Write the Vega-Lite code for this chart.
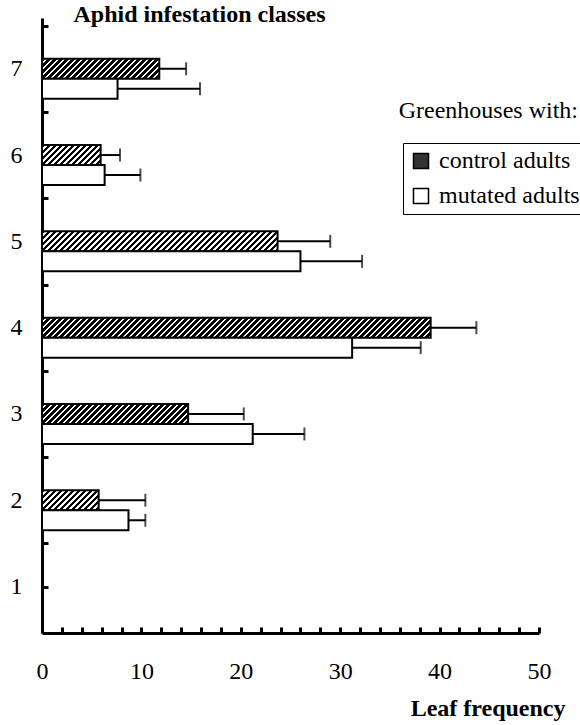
{
"$schema": "https://vega.github.io/schema/vega-lite/v6.json",
"width": 497, "height": 615,
"autosize": {"type": "none"},
"padding": {"left": 42, "top": 18, "right": 41, "bottom": 92},
"background": "white",
"config": {"view": {"stroke": null}, "font": "Liberation Serif",
 "legend": {"labelFont": "Liberation Serif", "labelFontSize": 24, "labelColor": "black"},
 "text": {"font": "Liberation Serif"}},
"data": {"values": [
{"cls": 7, "group": "control adults", "mean": 11.8, "upper": 14.5},
{"cls": 6, "group": "control adults", "mean": 5.9, "upper": 7.85},
{"cls": 5, "group": "control adults", "mean": 23.7, "upper": 29.0},
{"cls": 4, "group": "control adults", "mean": 39.1, "upper": 43.7},
{"cls": 3, "group": "control adults", "mean": 14.7, "upper": 20.3},
{"cls": 2, "group": "control adults", "mean": 5.7, "upper": 10.4},
{"cls": 7, "group": "mutated adults", "mean": 7.6, "upper": 15.9},
{"cls": 6, "group": "mutated adults", "mean": 6.3, "upper": 9.9},
{"cls": 5, "group": "mutated adults", "mean": 26.0, "upper": 32.2},
{"cls": 4, "group": "mutated adults", "mean": 31.2, "upper": 38.1},
{"cls": 3, "group": "mutated adults", "mean": 21.2, "upper": 26.4},
{"cls": 2, "group": "mutated adults", "mean": 8.7, "upper": 10.4}
]},
"layer": [
{"transform": [{"filter": "datum.group === 'control adults'"}],
 "mark": {"type": "bar", "orient": "horizontal", "size": 20, "strokeWidth": 0,
  "fill": {"gradient": "linear", "x1": 0, "y1": 0, "x2": 1.50524, "y2": 0.075717, "stops": [
{"offset":0,"color":"#000"},{"offset":0.006,"color":"#000"},{"offset":0.006,"color":"#fff"},{"offset":0.01,"color":"#fff"},
{"offset":0.01,"color":"#000"},{"offset":0.016,"color":"#000"},{"offset":0.016,"color":"#fff"},{"offset":0.02,"color":"#fff"},
{"offset":0.02,"color":"#000"},{"offset":0.026,"color":"#000"},{"offset":0.026,"color":"#fff"},{"offset":0.03,"color":"#fff"},
{"offset":0.03,"color":"#000"},{"offset":0.036,"color":"#000"},{"offset":0.036,"color":"#fff"},{"offset":0.04,"color":"#fff"},
{"offset":0.04,"color":"#000"},{"offset":0.046,"color":"#000"},{"offset":0.046,"color":"#fff"},{"offset":0.05,"color":"#fff"},
{"offset":0.05,"color":"#000"},{"offset":0.056,"color":"#000"},{"offset":0.056,"color":"#fff"},{"offset":0.06,"color":"#fff"},
{"offset":0.06,"color":"#000"},{"offset":0.066,"color":"#000"},{"offset":0.066,"color":"#fff"},{"offset":0.07,"color":"#fff"},
{"offset":0.07,"color":"#000"},{"offset":0.076,"color":"#000"},{"offset":0.076,"color":"#fff"},{"offset":0.08,"color":"#fff"},
{"offset":0.08,"color":"#000"},{"offset":0.086,"color":"#000"},{"offset":0.086,"color":"#fff"},{"offset":0.09,"color":"#fff"},
{"offset":0.09,"color":"#000"},{"offset":0.096,"color":"#000"},{"offset":0.096,"color":"#fff"},{"offset":0.10,"color":"#fff"},
{"offset":0.10,"color":"#000"},{"offset":0.106,"color":"#000"},{"offset":0.106,"color":"#fff"},{"offset":0.11,"color":"#fff"},
{"offset":0.11,"color":"#000"},{"offset":0.116,"color":"#000"},{"offset":0.116,"color":"#fff"},{"offset":0.12,"color":"#fff"},
{"offset":0.12,"color":"#000"},{"offset":0.126,"color":"#000"},{"offset":0.126,"color":"#fff"},{"offset":0.13,"color":"#fff"},
{"offset":0.13,"color":"#000"},{"offset":0.136,"color":"#000"},{"offset":0.136,"color":"#fff"},{"offset":0.14,"color":"#fff"},
{"offset":0.14,"color":"#000"},{"offset":0.146,"color":"#000"},{"offset":0.146,"color":"#fff"},{"offset":0.15,"color":"#fff"},
{"offset":0.15,"color":"#000"},{"offset":0.156,"color":"#000"},{"offset":0.156,"color":"#fff"},{"offset":0.16,"color":"#fff"},
{"offset":0.16,"color":"#000"},{"offset":0.166,"color":"#000"},{"offset":0.166,"color":"#fff"},{"offset":0.17,"color":"#fff"},
{"offset":0.17,"color":"#000"},{"offset":0.176,"color":"#000"},{"offset":0.176,"color":"#fff"},{"offset":0.18,"color":"#fff"},
{"offset":0.18,"color":"#000"},{"offset":0.186,"color":"#000"},{"offset":0.186,"color":"#fff"},{"offset":0.19,"color":"#fff"},
{"offset":0.19,"color":"#000"},{"offset":0.196,"color":"#000"},{"offset":0.196,"color":"#fff"},{"offset":0.20,"color":"#fff"},
{"offset":0.20,"color":"#000"},{"offset":0.206,"color":"#000"},{"offset":0.206,"color":"#fff"},{"offset":0.21,"color":"#fff"},
{"offset":0.21,"color":"#000"},{"offset":0.216,"color":"#000"},{"offset":0.216,"color":"#fff"},{"offset":0.22,"color":"#fff"},
{"offset":0.22,"color":"#000"},{"offset":0.226,"color":"#000"},{"offset":0.226,"color":"#fff"},{"offset":0.23,"color":"#fff"},
{"offset":0.23,"color":"#000"},{"offset":0.236,"color":"#000"},{"offset":0.236,"color":"#fff"},{"offset":0.24,"color":"#fff"},
{"offset":0.24,"color":"#000"},{"offset":0.246,"color":"#000"},{"offset":0.246,"color":"#fff"},{"offset":0.25,"color":"#fff"},
{"offset":0.25,"color":"#000"},{"offset":0.256,"color":"#000"},{"offset":0.256,"color":"#fff"},{"offset":0.26,"color":"#fff"},
{"offset":0.26,"color":"#000"},{"offset":0.266,"color":"#000"},{"offset":0.266,"color":"#fff"},{"offset":0.27,"color":"#fff"},
{"offset":0.27,"color":"#000"},{"offset":0.276,"color":"#000"},{"offset":0.276,"color":"#fff"},{"offset":0.28,"color":"#fff"},
{"offset":0.28,"color":"#000"},{"offset":0.286,"color":"#000"},{"offset":0.286,"color":"#fff"},{"offset":0.29,"color":"#fff"},
{"offset":0.29,"color":"#000"},{"offset":0.296,"color":"#000"},{"offset":0.296,"color":"#fff"},{"offset":0.30,"color":"#fff"},
{"offset":0.30,"color":"#000"},{"offset":0.306,"color":"#000"},{"offset":0.306,"color":"#fff"},{"offset":0.31,"color":"#fff"},
{"offset":0.31,"color":"#000"},{"offset":0.316,"color":"#000"},{"offset":0.316,"color":"#fff"},{"offset":0.32,"color":"#fff"},
{"offset":0.32,"color":"#000"},{"offset":0.326,"color":"#000"},{"offset":0.326,"color":"#fff"},{"offset":0.33,"color":"#fff"},
{"offset":0.33,"color":"#000"},{"offset":0.336,"color":"#000"},{"offset":0.336,"color":"#fff"},{"offset":0.34,"color":"#fff"},
{"offset":0.34,"color":"#000"},{"offset":0.346,"color":"#000"},{"offset":0.346,"color":"#fff"},{"offset":0.35,"color":"#fff"},
{"offset":0.35,"color":"#000"},{"offset":0.356,"color":"#000"},{"offset":0.356,"color":"#fff"},{"offset":0.36,"color":"#fff"},
{"offset":0.36,"color":"#000"},{"offset":0.366,"color":"#000"},{"offset":0.366,"color":"#fff"},{"offset":0.37,"color":"#fff"},
{"offset":0.37,"color":"#000"},{"offset":0.376,"color":"#000"},{"offset":0.376,"color":"#fff"},{"offset":0.38,"color":"#fff"},
{"offset":0.38,"color":"#000"},{"offset":0.386,"color":"#000"},{"offset":0.386,"color":"#fff"},{"offset":0.39,"color":"#fff"},
{"offset":0.39,"color":"#000"},{"offset":0.396,"color":"#000"},{"offset":0.396,"color":"#fff"},{"offset":0.40,"color":"#fff"},
{"offset":0.40,"color":"#000"},{"offset":0.406,"color":"#000"},{"offset":0.406,"color":"#fff"},{"offset":0.41,"color":"#fff"},
{"offset":0.41,"color":"#000"},{"offset":0.416,"color":"#000"},{"offset":0.416,"color":"#fff"},{"offset":0.42,"color":"#fff"},
{"offset":0.42,"color":"#000"},{"offset":0.426,"color":"#000"},{"offset":0.426,"color":"#fff"},{"offset":0.43,"color":"#fff"},
{"offset":0.43,"color":"#000"},{"offset":0.436,"color":"#000"},{"offset":0.436,"color":"#fff"},{"offset":0.44,"color":"#fff"},
{"offset":0.44,"color":"#000"},{"offset":0.446,"color":"#000"},{"offset":0.446,"color":"#fff"},{"offset":0.45,"color":"#fff"},
{"offset":0.45,"color":"#000"},{"offset":0.456,"color":"#000"},{"offset":0.456,"color":"#fff"},{"offset":0.46,"color":"#fff"},
{"offset":0.46,"color":"#000"},{"offset":0.466,"color":"#000"},{"offset":0.466,"color":"#fff"},{"offset":0.47,"color":"#fff"},
{"offset":0.47,"color":"#000"},{"offset":0.476,"color":"#000"},{"offset":0.476,"color":"#fff"},{"offset":0.48,"color":"#fff"},
{"offset":0.48,"color":"#000"},{"offset":0.486,"color":"#000"},{"offset":0.486,"color":"#fff"},{"offset":0.49,"color":"#fff"},
{"offset":0.49,"color":"#000"},{"offset":0.496,"color":"#000"},{"offset":0.496,"color":"#fff"},{"offset":0.50,"color":"#fff"},
{"offset":0.50,"color":"#000"},{"offset":0.506,"color":"#000"},{"offset":0.506,"color":"#fff"},{"offset":0.51,"color":"#fff"},
{"offset":0.51,"color":"#000"},{"offset":0.516,"color":"#000"},{"offset":0.516,"color":"#fff"},{"offset":0.52,"color":"#fff"},
{"offset":0.52,"color":"#000"},{"offset":0.526,"color":"#000"},{"offset":0.526,"color":"#fff"},{"offset":0.53,"color":"#fff"},
{"offset":0.53,"color":"#000"},{"offset":0.536,"color":"#000"},{"offset":0.536,"color":"#fff"},{"offset":0.54,"color":"#fff"},
{"offset":0.54,"color":"#000"},{"offset":0.546,"color":"#000"},{"offset":0.546,"color":"#fff"},{"offset":0.55,"color":"#fff"},
{"offset":0.55,"color":"#000"},{"offset":0.556,"color":"#000"},{"offset":0.556,"color":"#fff"},{"offset":0.56,"color":"#fff"},
{"offset":0.56,"color":"#000"},{"offset":0.566,"color":"#000"},{"offset":0.566,"color":"#fff"},{"offset":0.57,"color":"#fff"},
{"offset":0.57,"color":"#000"},{"offset":0.576,"color":"#000"},{"offset":0.576,"color":"#fff"},{"offset":0.58,"color":"#fff"},
{"offset":0.58,"color":"#000"},{"offset":0.586,"color":"#000"},{"offset":0.586,"color":"#fff"},{"offset":0.59,"color":"#fff"},
{"offset":0.59,"color":"#000"},{"offset":0.596,"color":"#000"},{"offset":0.596,"color":"#fff"},{"offset":0.60,"color":"#fff"},
{"offset":0.60,"color":"#000"},{"offset":0.606,"color":"#000"},{"offset":0.606,"color":"#fff"},{"offset":0.61,"color":"#fff"},
{"offset":0.61,"color":"#000"},{"offset":0.616,"color":"#000"},{"offset":0.616,"color":"#fff"},{"offset":0.62,"color":"#fff"},
{"offset":0.62,"color":"#000"},{"offset":0.626,"color":"#000"},{"offset":0.626,"color":"#fff"},{"offset":0.63,"color":"#fff"},
{"offset":0.63,"color":"#000"},{"offset":0.636,"color":"#000"},{"offset":0.636,"color":"#fff"},{"offset":0.64,"color":"#fff"},
{"offset":0.64,"color":"#000"},{"offset":0.646,"color":"#000"},{"offset":0.646,"color":"#fff"},{"offset":0.65,"color":"#fff"},
{"offset":0.65,"color":"#000"},{"offset":0.656,"color":"#000"},{"offset":0.656,"color":"#fff"},{"offset":0.66,"color":"#fff"},
{"offset":0.66,"color":"#000"},{"offset":0.666,"color":"#000"},{"offset":0.666,"color":"#fff"},{"offset":0.67,"color":"#fff"},
{"offset":0.67,"color":"#000"},{"offset":0.676,"color":"#000"},{"offset":0.676,"color":"#fff"},{"offset":0.68,"color":"#fff"},
{"offset":0.68,"color":"#000"},{"offset":0.686,"color":"#000"},{"offset":0.686,"color":"#fff"},{"offset":0.69,"color":"#fff"},
{"offset":0.69,"color":"#000"},{"offset":0.696,"color":"#000"},{"offset":0.696,"color":"#fff"},{"offset":0.70,"color":"#fff"}
  ]}},
 "encoding": {
  "y": {"field": "cls", "type": "quantitative",
   "scale": {"domain": [0.52, 7.53], "nice": false, "zero": false},
   "axis": {"title": "Aphid infestation classes", "titleAngle": 0, "titleAlign": "left", "titleBaseline": "middle", "titleX": 31, "titleY": -4,
    "titleFont": "Liberation Serif", "titleFontSize": 24, "titleFontWeight": "bold", "titleColor": "black",
    "values": [1, 1.5, 2, 2.5, 3, 3.5, 4, 4.5, 5, 5.5, 6, 6.5, 7, 7.5], "tickCount": 40,
    "labelExpr": "datum.value % 1 === 0 ? format(datum.value, 'd') : ''",
    "labelFont": "Liberation Serif", "labelFontSize": 24, "labelColor": "black", "labelPadding": 26, "labelOverlap": false,
    "tickSize": -6, "tickWidth": 3, "tickColor": "black", "domainColor": "black", "domainWidth": 3, "grid": false}},
  "x": {"datum": 0, "type": "quantitative",
   "scale": {"domain": [0, 50], "nice": false, "zero": true},
   "axis": {"title": "Leaf frequency", "titleAlign": "right", "titleX": 523, "titleY": 75, "titleBaseline": "middle",
    "titleFont": "Liberation Serif", "titleFontSize": 24, "titleFontWeight": "bold", "titleColor": "black",
    "values": [0, 2, 4, 6, 8, 10, 12, 14, 16, 18, 20, 22, 24, 26, 28, 30, 32, 34, 36, 38, 40, 42, 44, 46, 48, 50], "tickCount": 60,
    "labelExpr": "datum.value % 10 === 0 ? format(datum.value, 'd') : ''",
    "labelFont": "Liberation Serif", "labelFontSize": 24, "labelColor": "black", "labelPadding": 32, "labelFlush": false, "labelOverlap": false,
    "tickSize": -6, "tickWidth": 3, "tickColor": "black", "domainColor": "black", "domainWidth": 3, "grid": false}},
  "x2": {"datum": 40}
 }},
{"transform": [{"filter": "datum.group === 'control adults'"}],
 "mark": {"type": "bar", "orient": "horizontal", "size": 22, "fill": "white", "strokeWidth": 0},
 "encoding": {"y": {"field": "cls", "type": "quantitative"}, "x": {"field": "mean", "type": "quantitative"}, "x2": {"datum": 41}}},
{"transform": [{"filter": "datum.group === 'control adults'"}],
 "mark": {"type": "bar", "orient": "horizontal", "size": 20, "filled": false, "stroke": "black", "strokeWidth": 2},
 "encoding": {"y": {"field": "cls", "type": "quantitative"}, "x": {"field": "mean", "type": "quantitative"}}},
{"transform": [{"filter": "datum.group === 'control adults'"}],
 "mark": {"type": "rule", "color": "black", "strokeWidth": 2},
 "encoding": {"y": {"field": "cls", "type": "quantitative"}, "x": {"field": "mean", "type": "quantitative"}, "x2": {"field": "upper"}}},
{"transform": [{"filter": "datum.group === 'control adults'"}],
 "mark": {"type": "tick", "orient": "vertical", "color": "black", "size": 13, "thickness": 2},
 "encoding": {"y": {"field": "cls", "type": "quantitative"}, "x": {"field": "upper", "type": "quantitative"}}},
{"transform": [{"filter": "datum.group === 'mutated adults'"}],
 "mark": {"type": "bar", "orient": "horizontal", "size": 20, "yOffset": 20, "stroke": "black", "strokeWidth": 2},
 "encoding": {
  "y": {"field": "cls", "type": "quantitative"},
  "x": {"field": "mean", "type": "quantitative"},
  "fill": {"field": "group", "type": "nominal",
   "scale": {"domain": ["control adults", "mutated adults"], "range": ["#333333", "#ffffff"]},
   "legend": {"title": null, "orient": "none", "legendX": 361, "legendY": 125,
    "symbolType": "square", "symbolSize": 225, "symbolStrokeColor": "black", "symbolStrokeWidth": 1.5, "symbolOpacity": 1,
    "labelFont": "Liberation Serif", "labelFontSize": 24, "labelColor": "black", "labelOffset": 6, "labelLimit": 300,
    "rowPadding": 11, "padding": 6, "strokeColor": "black"}}
 }},
{"transform": [{"filter": "datum.group === 'mutated adults'"}],
 "mark": {"type": "rule", "color": "black", "strokeWidth": 2, "yOffset": 20},
 "encoding": {"y": {"field": "cls", "type": "quantitative"}, "x": {"field": "mean", "type": "quantitative"}, "x2": {"field": "upper"}}},
{"transform": [{"filter": "datum.group === 'mutated adults'"}],
 "mark": {"type": "tick", "orient": "vertical", "color": "black", "size": 13, "thickness": 2, "yOffset": 20},
 "encoding": {"y": {"field": "cls", "type": "quantitative"}, "x": {"field": "upper", "type": "quantitative"}}},
{"data": {"values": [{"label": "Greenhouses with:"}]},
 "mark": {"type": "text", "align": "right", "baseline": "middle", "font": "Liberation Serif", "fontSize": 24, "color": "black"},
 "encoding": {
  "text": {"field": "label", "type": "nominal"},
  "x": {"datum": 53.92, "type": "quantitative"},
  "y": {"datum": 6.515, "type": "quantitative"}}}
]
}
